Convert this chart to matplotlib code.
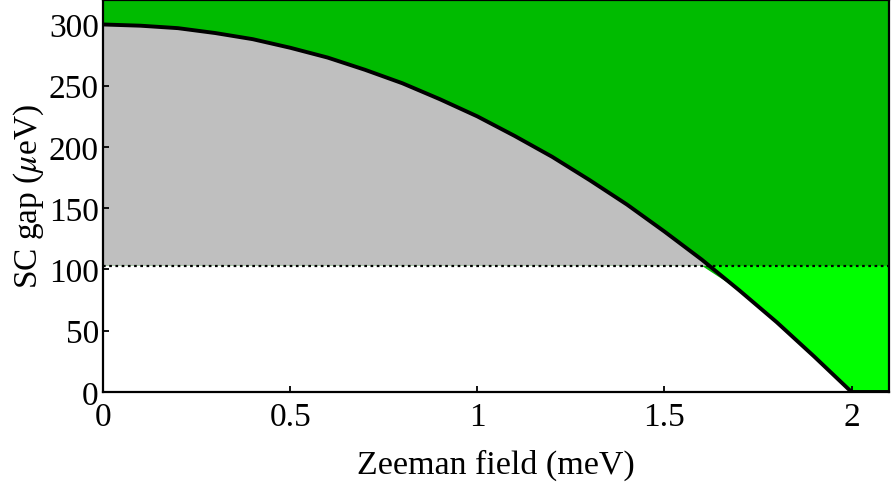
import matplotlib
matplotlib.use('Agg')
import matplotlib.pyplot as plt
import numpy as np

plt.rcParams['font.family'] = ['Liberation Serif', 'DejaVu Serif']
plt.rcParams['mathtext.fontset'] = 'stix'

# Zeeman field (meV) and SC gap (ueV)
zeeman = [0.0, 0.1, 0.2, 0.3, 0.4, 0.5, 0.6, 0.7, 0.8, 0.9, 1.0,
          1.1, 1.2, 1.3, 1.4, 1.5, 1.6, 1.7, 1.8, 1.9, 2.0, 2.1]
gap = [300, 299, 297, 293, 288, 281, 273, 263, 252, 239, 225,
       209, 192, 173, 153, 131, 108, 83, 57, 29, 0, 0]
threshold = 103

DARK_GREEN   = '#00BB00'
BRIGHT_GREEN = '#00FF00'
GREY         = '#BFBFBF'

x = np.array(zeeman)
g = np.array(gap, dtype=float)

fig = plt.figure(figsize=(8.92, 4.85), dpi=100, facecolor='white')
ax = fig.add_axes([0.1155, 0.1897, 0.8811, 0.8083])
ax.set_facecolor(DARK_GREEN)

ax.fill_between(x, threshold, g, where=g >= threshold, interpolate=True,
                facecolor=GREY, edgecolor='none', zorder=1)
ax.fill_between(x, g, threshold, where=g <= threshold, interpolate=True,
                facecolor=BRIGHT_GREEN, edgecolor='none', zorder=1)
ax.fill_between(x, 0, np.minimum(g, threshold),
                facecolor='white', edgecolor='none', zorder=1)

ax.axhline(threshold, color='black', lw=1.6, ls=(0, (1.2, 1.6)), zorder=2)
ax.plot(x, g, color='black', lw=2.8, zorder=3, solid_joinstyle='round')

ax.set_xlim(0, 2.1)
ax.set_ylim(0, 320)
ax.set_xticks([0, 0.5, 1, 1.5, 2])
ax.set_xticklabels(['0', '0.5', '1', '1.5', '2'])
ax.set_yticks([0, 50, 100, 150, 200, 250, 300])
ax.tick_params(direction='in', length=4, width=1.3, labelsize=24)
ax.tick_params(axis='x', pad=7)
ax.tick_params(axis='y', pad=3)

for s in ax.spines.values():
    s.set_linewidth(1.6)
    s.set_zorder(4)

ax.set_xlabel('Zeeman field (meV)', fontsize=24.5, labelpad=12)
ax.set_ylabel(r'SC gap ($\mu$eV)', fontsize=24, labelpad=2)

plt.savefig('out.png', dpi=100, facecolor='white')
